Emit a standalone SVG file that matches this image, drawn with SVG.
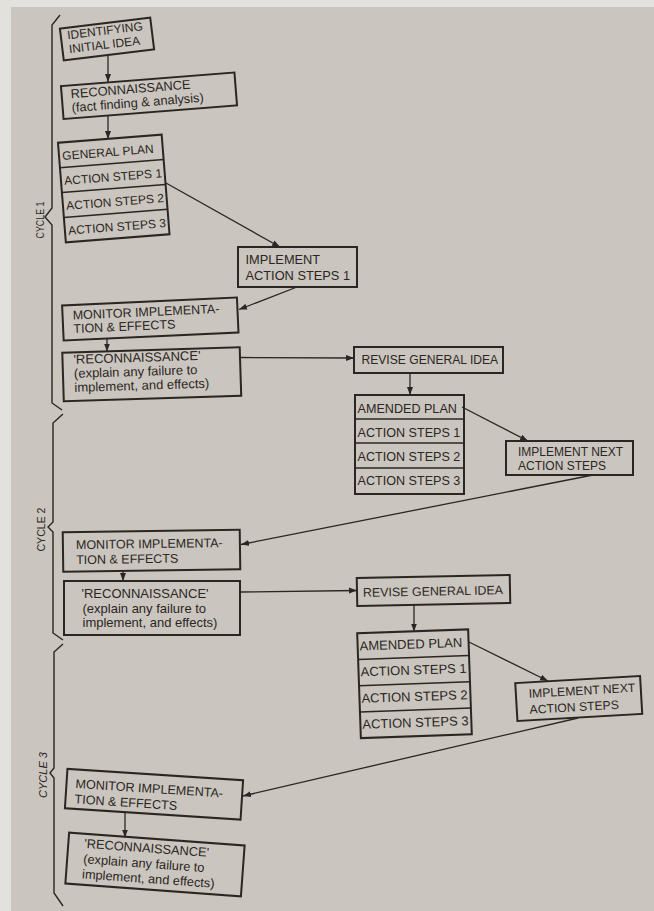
<svg xmlns="http://www.w3.org/2000/svg" width="654" height="911" viewBox="0 0 654 911">
<style>
.bx{fill:none;stroke:#2a2623;stroke-width:2}
.dv{stroke:#2a2623;stroke-width:1.5}
.t{font-family:"Liberation Sans",Arial,sans-serif;fill:#2a2623}
.c{fill:none;stroke:#2a2623;stroke-width:1.3}
.br{fill:none;stroke:#2a2623;stroke-width:1.4;stroke-linejoin:miter}
.lb{font-family:"Liberation Sans",Arial,sans-serif;fill:#2a2623;font-size:11px}
</style>
<defs>
<marker id="ah" markerUnits="userSpaceOnUse" markerWidth="9" markerHeight="7" refX="8" refY="3.5" orient="auto">
<path d="M0,0.5 L8,3.5 L0,6.5 z" fill="#2a2623"/>
</marker>
</defs>
<rect x="0" y="0" width="654" height="911" fill="#e3e1dd"/>
<rect x="11" y="7" width="643" height="904" fill="#cac5be"/>

<g id="braces">
<path class="br" d="M60,15 L52,25 L52,208 L45,217 L52,225 L52,403 L62,410"/>
<path class="br" d="M63,414 L53,423 L53,522 L48,527 L53,532 L53,633 L63,640"/>
<path class="br" d="M63,644 L54,652 L54,768 L50,773 L54,778 L54,893 L63,906"/>
<text class="lb" transform="translate(43.5,220) rotate(-90)" text-anchor="middle" textLength="37" lengthAdjust="spacingAndGlyphs">CYCLE 1</text>
<text class="lb" transform="translate(45,529.5) rotate(-90)" text-anchor="middle" textLength="44" lengthAdjust="spacingAndGlyphs">CYCLE 2</text>
<text class="lb" transform="translate(47,775) rotate(-90)" text-anchor="middle" font-style="italic" textLength="46" lengthAdjust="spacingAndGlyphs">CYCLE 3</text>
</g>

<g id="connectors">
<line class="c" x1="108" y1="56" x2="108" y2="82" marker-end="url(#ah)"/>
<line class="c" x1="108" y1="115" x2="108" y2="139" marker-end="url(#ah)"/>
<line class="c" x1="166" y1="183" x2="280" y2="247" marker-end="url(#ah)"/>
<line class="c" x1="297" y1="287" x2="239" y2="309.5" marker-end="url(#ah)"/>
<line class="c" x1="107" y1="338.5" x2="107" y2="351.5" marker-end="url(#ah)"/>
<line class="c" x1="240.5" y1="357.5" x2="354" y2="358" marker-end="url(#ah)"/>
<line class="c" x1="410" y1="373" x2="410" y2="395" marker-end="url(#ah)"/>
<line class="c" x1="462" y1="407" x2="528" y2="441" marker-end="url(#ah)"/>
<line class="c" x1="593" y1="475" x2="241" y2="544.5" marker-end="url(#ah)"/>
<line class="c" x1="123" y1="570.5" x2="123" y2="581" marker-end="url(#ah)"/>
<line class="c" x1="240" y1="592" x2="357" y2="590.5" marker-end="url(#ah)"/>
<line class="c" x1="414" y1="605" x2="414" y2="631.5" marker-end="url(#ah)"/>
<line class="c" x1="469" y1="642" x2="548" y2="681" marker-end="url(#ah)"/>
<line class="c" x1="578" y1="718" x2="243" y2="796" marker-end="url(#ah)"/>
<line class="c" x1="125" y1="812" x2="125" y2="837.5" marker-end="url(#ah)"/>
</g>

<g id="identifying" transform="rotate(-7 107 39)">
<rect class="bx" x="61.5" y="23" width="91" height="32"/>
<text class="t" font-size="12" x="68" y="34.5">IDENTIFYING</text>
<text class="t" font-size="12" x="68" y="48.5">INITIAL IDEA</text>
</g>

<g id="reconnaissance1" transform="rotate(-4.5 149 95.75)">
<rect class="bx" x="62" y="79.25" width="174" height="33"/>
<text class="t" font-size="12.8" x="71" y="92">RECONNAISSANCE</text>
<text class="t" font-size="12.8" x="71" y="106">(fact finding &amp; analysis)</text>
</g>

<g id="general-plan" transform="rotate(-4.5 113.75 188.5)">
<rect class="bx" x="61.75" y="138.5" width="104" height="100"/>
<line class="dv" x1="61.75" y1="163.5" x2="165.75" y2="163.5"/>
<line class="dv" x1="61.75" y1="188.5" x2="165.75" y2="188.5"/>
<line class="dv" x1="61.75" y1="213.5" x2="165.75" y2="213.5"/>
<text class="t" font-size="12" x="65" y="156">GENERAL PLAN</text>
<text class="t" font-size="12" x="65" y="181">ACTION STEPS 1</text>
<text class="t" font-size="12" x="65" y="206">ACTION STEPS 2</text>
<text class="t" font-size="12" x="65" y="231">ACTION STEPS 3</text>
</g>

<g id="implement1">
<rect class="bx" x="238" y="247" width="119" height="40"/>
<text class="t" font-size="12.8" x="245.5" y="264">IMPLEMENT</text>
<text class="t" font-size="12.8" x="245.5" y="279.5">ACTION STEPS 1</text>
</g>

<g id="monitor1" transform="rotate(-2.6 150.3 319)">
<rect class="bx" x="62.8" y="301.5" width="175" height="35"/>
<text class="t" font-size="12.5" x="73" y="316">MONITOR IMPLEMENTA-</text>
<text class="t" font-size="12.5" x="73" y="329.5">TION &amp; EFFECTS</text>
</g>

<g id="reconnaissance-c1" transform="rotate(-1.8 151.75 374.25)">
<rect class="bx" x="63" y="350" width="177.5" height="48.5"/>
<text class="t" font-size="13" x="74" y="361.5">'RECONNAISSANCE'</text>
<text class="t" font-size="13" x="74" y="375.5">(explain any failure to</text>
<text class="t" font-size="13" x="74" y="389.5">implement, and effects)</text>
</g>

<g id="revise1">
<rect class="bx" x="354" y="347" width="149" height="26"/>
<text class="t" font-size="12.1" x="361.5" y="364">REVISE GENERAL IDEA</text>
</g>

<g id="amended1">
<rect class="bx" x="355" y="395" width="109" height="99"/>
<line class="dv" x1="355" y1="419" x2="464" y2="419"/>
<line class="dv" x1="355" y1="443" x2="464" y2="443"/>
<line class="dv" x1="355" y1="468" x2="464" y2="468"/>
<text class="t" font-size="12.6" x="357.5" y="413">AMENDED PLAN</text>
<text class="t" font-size="12.6" x="357.5" y="437">ACTION STEPS 1</text>
<text class="t" font-size="12.6" x="357.5" y="461">ACTION STEPS 2</text>
<text class="t" font-size="12.6" x="357.5" y="485">ACTION STEPS 3</text>
</g>

<g id="implement-next1">
<rect class="bx" x="506" y="441" width="127" height="34"/>
<text class="t" font-size="12" x="518" y="456">IMPLEMENT NEXT</text>
<text class="t" font-size="12" x="518" y="470">ACTION STEPS</text>
</g>

<g id="monitor2" transform="rotate(-0.8 151.5 550.75)">
<rect class="bx" x="63" y="531" width="177" height="39.5"/>
<text class="t" font-size="12.5" x="76" y="548">MONITOR IMPLEMENTA-</text>
<text class="t" font-size="12.5" x="76" y="563">TION &amp; EFFECTS</text>
</g>

<g id="reconnaissance-c2">
<rect class="bx" x="64" y="581" width="176" height="54"/>
<text class="t" font-size="13" x="81.5" y="598">'RECONNAISSANCE'</text>
<text class="t" font-size="13" x="82.5" y="612.5">(explain any failure to</text>
<text class="t" font-size="13" x="82.5" y="626.5">implement, and effects)</text>
</g>

<g id="revise2" transform="rotate(-1.1 433.5 590.5)">
<rect class="bx" x="357" y="576.5" width="153" height="28"/>
<text class="t" font-size="12.4" x="363" y="595.5">REVISE GENERAL IDEA</text>
</g>

<g id="amended2" transform="rotate(-2 414.5 683.75)">
<rect class="bx" x="359" y="631.25" width="111" height="105"/>
<line class="dv" x1="359" y1="657.5" x2="470" y2="657.5"/>
<line class="dv" x1="359" y1="683.75" x2="470" y2="683.75"/>
<line class="dv" x1="359" y1="710" x2="470" y2="710"/>
<text class="t" font-size="13" x="361" y="648.5">AMENDED PLAN</text>
<text class="t" font-size="13" x="361" y="674.5">ACTION STEPS 1</text>
<text class="t" font-size="13" x="361" y="701">ACTION STEPS 2</text>
<text class="t" font-size="13" x="361" y="727">ACTION STEPS 3</text>
</g>

<g id="implement-next2" transform="rotate(-3.3 578.75 698.5)">
<rect class="bx" x="516.25" y="679.5" width="125" height="38"/>
<text class="t" font-size="12.2" x="529" y="695">IMPLEMENT NEXT</text>
<text class="t" font-size="12.2" x="529" y="711">ACTION STEPS</text>
</g>

<g id="monitor3" transform="rotate(3.7 154 794.25)">
<rect class="bx" x="66" y="774.5" width="176" height="39.5"/>
<text class="t" font-size="12.6" x="75" y="793">MONITOR IMPLEMENTA-</text>
<text class="t" font-size="12.6" x="75" y="808.5">TION &amp; EFFECTS</text>
</g>

<g id="reconnaissance-c3" transform="rotate(4.2 155 864.5)">
<rect class="bx" x="67" y="839" width="176" height="51"/>
<text class="t" font-size="12.8" x="83" y="853">'RECONNAISSANCE'</text>
<text class="t" font-size="12.8" x="83" y="868.5">(explain any failure to</text>
<text class="t" font-size="12.8" x="83" y="883.5">implement, and effects)</text>
</g>
</svg>
